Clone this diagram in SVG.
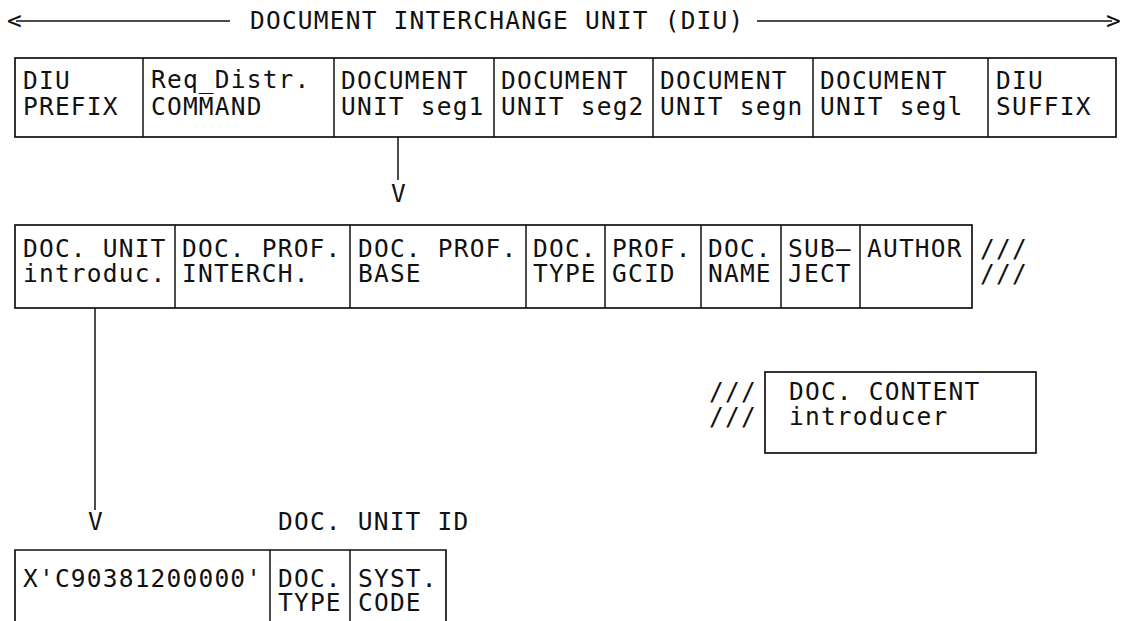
<svg xmlns="http://www.w3.org/2000/svg" width="1125" height="621" viewBox="0 0 1125 621">
  <style>
    text { font-family: "DejaVu Sans Mono", "Liberation Mono", monospace; font-size: 24.5px; letter-spacing: 1.2px; fill: #111; }
    .box { fill: none; stroke: #111; stroke-width: 1.7; }
    .div { stroke: #111; stroke-width: 1.5; }
    .wire { stroke: #111; stroke-width: 1.5; fill: none; }
  </style>
  <rect width="1125" height="621" fill="#fff"/>

  <!-- span label across the whole interchange unit -->
  <g id="diu-span">
    <text x="7" y="29">&lt;</text>
    <line class="wire" x1="16" y1="21" x2="230" y2="21"/>
    <text x="250" y="29">DOCUMENT INTERCHANGE UNIT (DIU)</text>
    <line class="wire" x1="757" y1="21" x2="1112" y2="21"/>
    <text x="1106" y="29">&gt;</text>
  </g>

  <!-- DIU record: 7 fields -->
  <g id="diu-row">
    <rect class="box" x="15" y="58" width="1101" height="79"/>
    <line class="div" x1="143" y1="58" x2="143" y2="137"/>
    <line class="div" x1="334" y1="58" x2="334" y2="137"/>
    <line class="div" x1="494" y1="58" x2="494" y2="137"/>
    <line class="div" x1="653" y1="58" x2="653" y2="137"/>
    <line class="div" x1="813" y1="58" x2="813" y2="137"/>
    <line class="div" x1="988" y1="58" x2="988" y2="137"/>
    <text id="diu-prefix"><tspan x="23" y="89">DIU</tspan><tspan x="23" y="115">PREFIX</tspan></text>
    <text id="req-distr"><tspan x="151" y="88">Req_Distr.</tspan><tspan x="151" y="115">COMMAND</tspan></text>
    <text id="du-seg1"><tspan x="341" y="89">DOCUMENT</tspan><tspan x="341" y="115">UNIT seg1</tspan></text>
    <text id="du-seg2"><tspan x="501" y="89">DOCUMENT</tspan><tspan x="501" y="115">UNIT seg2</tspan></text>
    <text id="du-segn"><tspan x="660" y="89">DOCUMENT</tspan><tspan x="660" y="115">UNIT segn</tspan></text>
    <text id="du-segl"><tspan x="820" y="89">DOCUMENT</tspan><tspan x="820" y="115">UNIT segl</tspan></text>
    <text id="diu-suffix"><tspan x="996" y="89">DIU</tspan><tspan x="996" y="115">SUFFIX</tspan></text>
  </g>

  <!-- document unit segment: 8 fields -->
  <g id="du-row">
    <rect class="box" x="15" y="225" width="957" height="83"/>
    <line class="div" x1="175" y1="225" x2="175" y2="308"/>
    <line class="div" x1="350" y1="225" x2="350" y2="308"/>
    <line class="div" x1="526" y1="225" x2="526" y2="308"/>
    <line class="div" x1="605" y1="225" x2="605" y2="308"/>
    <line class="div" x1="701" y1="225" x2="701" y2="308"/>
    <line class="div" x1="781" y1="225" x2="781" y2="308"/>
    <line class="div" x1="860" y1="225" x2="860" y2="308"/>
    <text id="du-intro"><tspan x="23" y="257">DOC. UNIT</tspan><tspan x="23" y="282">introduc.</tspan></text>
    <text id="prof-interch"><tspan x="182" y="257">DOC. PROF.</tspan><tspan x="182" y="282">INTERCH.</tspan></text>
    <text id="prof-base"><tspan x="358" y="257">DOC. PROF.</tspan><tspan x="358" y="282">BASE</tspan></text>
    <text id="doc-type"><tspan x="533" y="257">DOC.</tspan><tspan x="533" y="282">TYPE</tspan></text>
    <text id="prof-gcid"><tspan x="612" y="257">PROF.</tspan><tspan x="612" y="282">GCID</tspan></text>
    <text id="doc-name"><tspan x="708" y="257">DOC.</tspan><tspan x="708" y="282">NAME</tspan></text>
    <text id="subject"><tspan x="788" y="257">SUB–</tspan><tspan x="788" y="282">JECT</tspan></text>
    <text id="author" x="867" y="257">AUTHOR</text>
    <text id="du-row-cont"><tspan x="980" y="257">///</tspan><tspan x="980" y="282">///</tspan></text>
  </g>

  <!-- document content introducer, continued from the row above -->
  <g id="content-intro">
    <text><tspan x="709" y="400">///</tspan><tspan x="709" y="425">///</tspan></text>
    <rect class="box" x="765" y="372" width="271" height="81"/>
    <text><tspan x="789" y="400">DOC. CONTENT</tspan><tspan x="789" y="425">introducer</tspan></text>
  </g>

  <!-- document unit identifier -->
  <g id="du-id">
    <text x="278" y="530">DOC. UNIT ID</text>
    <path class="box" d="M15,630 V550 H446 V630"/>
    <line class="div" x1="270" y1="550" x2="270" y2="630"/>
    <line class="div" x1="350" y1="550" x2="350" y2="630"/>
    <text x="23" y="587">X'C90381200000'</text>
    <text><tspan x="278" y="587">DOC.</tspan><tspan x="278" y="611">TYPE</tspan></text>
    <text><tspan x="358" y="587">SYST.</tspan><tspan x="358" y="611">CODE</tspan></text>
  </g>

  <!-- expansion connectors, V-heads -->
  <g id="connectors">
    <line class="wire" x1="398" y1="137" x2="398" y2="180"/>
    <text x="399" y="202" text-anchor="middle">V</text>
    <line class="wire" x1="95" y1="308" x2="95" y2="510"/>
    <text x="96" y="530" text-anchor="middle">V</text>
  </g>
</svg>
